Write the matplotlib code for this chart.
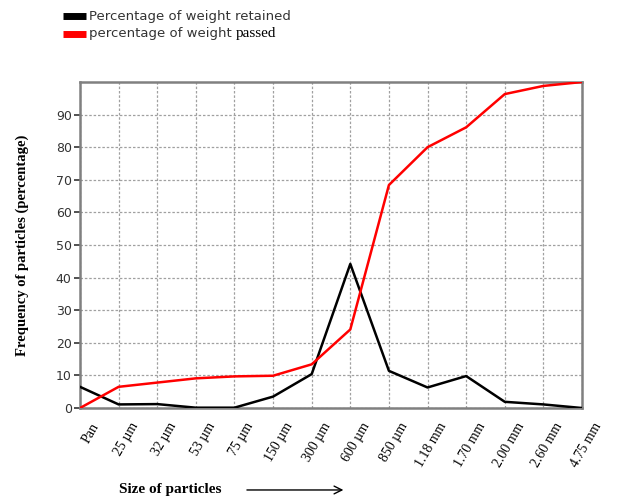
import matplotlib
matplotlib.use("Agg")
import matplotlib.pyplot as plt
import matplotlib.transforms as mtransforms
from matplotlib.lines import Line2D

# sieve sizes and percentages
sizes = ["Pan", "25 µm", "32 µm", "53 µm", "75 µm", "150 µm", "300 µm",
         "600 µm", "850 µm", "1.18 mm", "1.70 mm", "2.00 mm", "2.60 mm", "4.75 mm"]
retained = [6.5, 1.1, 1.2, 0.1, 0.1, 3.5, 10.4, 44.2, 11.4, 6.3, 9.8, 1.9, 1.1, 0.0]
passed = [0.0, 6.5, 7.8, 9.1, 9.7, 9.9, 13.4, 24.1, 68.4, 80.0, 86.1, 96.3, 98.8, 100.0]

fig = plt.figure(figsize=(6.26, 5.01), dpi=100)
ax = fig.add_axes([0.1278, 0.1856, 0.8019, 0.6507])

x = list(range(len(sizes)))
ax.plot(x, retained, color="black", lw=1.8, zorder=3)
ax.plot(x, passed, color="#ff0000", lw=1.8, zorder=3)

ax.set_xlim(0, len(sizes) - 1)
ax.set_ylim(0, 100)
ax.set_yticks(range(0, 100, 10))
ax.set_xticks(x)
ax.grid(True, color="#a0a0a0", ls=(0, (2, 1.5)), lw=0.9)
ax.set_axisbelow(True)

for s in ax.spines.values():
    s.set_color("#808080")
    s.set_linewidth(1.8)

ax.tick_params(axis="y", direction="out", length=4, width=1.2, colors="#333333",
               labelsize=9, pad=2)
ax.tick_params(axis="x", length=0, pad=9)
shift = mtransforms.ScaledTranslation(0.22, 0, fig.dpi_scale_trans)
ax.set_xticklabels(sizes, rotation=60, ha="right", va="top",
                   family="Liberation Serif", fontsize=10)
for lab in ax.get_xticklabels():
    lab.set_transform(lab.get_transform() + shift)

# axis titles
fig.text(0.035, 0.51, "Frequency of particles (percentage)", rotation=90,
         ha="center", va="center", family="Liberation Serif",
         fontweight="bold", fontsize=10.5)
fig.text(0.19, 0.022, "Size of particles", ha="left", va="center",
         family="Liberation Serif", fontweight="bold", fontsize=11)
fig.add_artist(matplotlib.patches.FancyArrowPatch(
    (0.39, 0.022), (0.553, 0.022), transform=fig.transFigure,
    arrowstyle="->", mutation_scale=14, lw=1.0, color="black"))

# legend
fig.add_artist(Line2D([0.1, 0.137], [0.968, 0.968], color="black", lw=5,
                      solid_capstyle="butt", transform=fig.transFigure))
fig.add_artist(Line2D([0.1, 0.137], [0.933, 0.933], color="#ff0000", lw=5,
                      solid_capstyle="butt", transform=fig.transFigure))
fig.text(0.142, 0.968, "Percentage of weight retained", ha="left", va="center",
         fontsize=9.5, color="#333333")
t = fig.text(0.142, 0.933, "percentage of weight ", ha="left", va="center",
             fontsize=9.5, color="#333333")
fig.canvas.draw()
bb = t.get_window_extent().transformed(fig.transFigure.inverted())
fig.text(bb.x1, 0.933, "passed", ha="left", va="center",
         family="Liberation Serif", fontsize=11, color="black")

fig.savefig("out.png", dpi=100)
